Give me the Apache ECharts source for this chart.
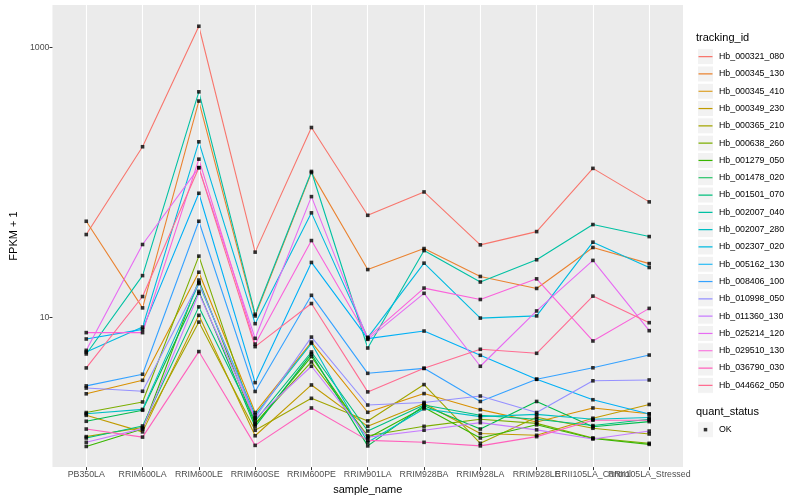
<!DOCTYPE html>
<html>
<head>
<meta charset="utf-8">
<script src="https://cdn.jsdelivr.net/npm/echarts@6/dist/echarts.min.js"></script>
<style>html,body{margin:0;padding:0;background:#fff}#c{width:800px;height:500px}</style>
</head>
<body>
<div id="c"></div>
<script>
const categories = ['PB350LA','RRIM600LA','RRIM600LE','RRIM600SE','RRIM600PE','RRIM901LA','RRIM928BA','RRIM928LA','RRIM928LE','RRII105LA_Control','RRII105LA_Stressed'];

const trackingIds = ['Hb_000321_080','Hb_000345_130','Hb_000345_410','Hb_000349_230','Hb_000365_210','Hb_000638_260','Hb_001279_050','Hb_001478_020','Hb_001501_070','Hb_002007_040','Hb_002007_280','Hb_002307_020','Hb_005162_130','Hb_008406_100','Hb_010998_050','Hb_011360_130','Hb_025214_120','Hb_029510_130','Hb_036790_030','Hb_044662_050'];

const colors = ['#F8766D','#EA8331','#D89000','#C09B00','#A3A500','#7CAE00','#39B600','#00BB4E','#00BF7D','#00C1A3','#00BFC4','#00BAE0','#00B0F6','#35A2FF','#9590FF','#C77CFF','#E76BF3','#FA62DB','#FF62BC','#FF6C91'];

// FPKM + 1 values, one array per tracking_id, in category order
const hb_000321_080 = [40.9, 183, 1430, 30.3, 254, 56.8, 84.6, 34.3, 43.0, 126.5, 71.4];
const hb_000345_130 = [51.3, 11.7, 399, 10.2, 117.6, 22.5, 32.2, 20.0, 16.3, 32.8, 24.9];
const hb_000345_410 = [2.70, 3.40, 21.5, 1.96, 6.53, 1.97, 2.71, 2.06, 1.67, 2.12, 1.92];
const hb_000349_230 = [1.87, 1.41, 10.3, 1.32, 3.14, 1.55, 2.29, 1.37, 1.33, 1.78, 2.25];
const hb_000365_210 = [1.30, 1.52, 9.18, 1.45, 2.50, 1.70, 3.16, 1.16, 1.81, 1.50, 1.36];
const hb_000638_260 = [1.96, 2.35, 28.3, 1.63, 4.65, 1.32, 1.55, 1.75, 1.63, 1.27, 1.16];
const hb_001279_050 = [1.10, 1.48, 18.8, 1.60, 5.10, 1.27, 2.14, 1.27, 1.59, 1.26, 1.14];
const hb_001478_020 = [1.69, 2.04, 15.5, 1.54, 5.33, 1.11, 2.20, 1.48, 2.37, 1.54, 1.68];
const hb_001501_070 = [1.27, 1.56, 11.9, 1.70, 5.51, 1.43, 2.23, 1.87, 1.75, 1.57, 1.75];
const hb_002007_040 = [5.33, 20.3, 467, 10.5, 120, 5.90, 31.1, 18.2, 26.6, 48.5, 39.5];
const hb_002007_280 = [1.92, 2.07, 17.7, 1.88, 6.39, 1.18, 2.09, 1.83, 1.90, 1.75, 1.80];
const hb_002307_020 = [5.51, 8.43, 199, 8.94, 59.2, 7.04, 25.1, 9.83, 10.2, 35.9, 23.3];
const hb_005162_130 = [6.88, 8.11, 82.7, 3.27, 25.4, 6.92, 7.88, 5.21, 3.46, 2.44, 1.91];
const hb_008406_100 = [3.09, 3.77, 51.3, 2.81, 14.5, 3.83, 4.17, 2.37, 3.46, 4.21, 5.23];
const hb_010998_050 = [2.98, 2.82, 18.0, 1.80, 7.11, 2.23, 2.33, 2.60, 1.96, 3.37, 3.42];
const hb_011360_130 = [1.18, 1.49, 15.0, 1.77, 4.32, 1.29, 1.45, 1.65, 1.46, 1.25, 1.43];
const hb_025214_120 = [5.67, 34.5, 128, 6.96, 78.1, 6.84, 15.0, 4.32, 11.1, 26.3, 7.93];
const hb_029510_130 = [7.67, 7.67, 148, 6.31, 36.9, 7.08, 16.4, 13.5, 19.2, 6.65, 11.6];
const hb_036790_030 = [1.48, 1.29, 5.55, 1.12, 2.12, 1.22, 1.18, 1.11, 1.30, 1.72, 1.72];
const hb_044662_050 = [4.20, 14.2, 128, 6.04, 12.6, 2.79, 4.17, 5.77, 5.39, 14.3, 9.09];

const seriesValues = [hb_000321_080, hb_000345_130, hb_000345_410, hb_000349_230, hb_000365_210, hb_000638_260, hb_001279_050, hb_001478_020, hb_001501_070, hb_002007_040, hb_002007_280, hb_002307_020, hb_005162_130, hb_008406_100, hb_010998_050, hb_011360_130, hb_025214_120, hb_029510_130, hb_036790_030, hb_044662_050];

const yTickLabels = [10, 1000];
const quantStatus = ['OK'];

const FONT = 'Liberation Sans, Arial, Helvetica, sans-serif';

const X_MIN = -0.6, X_MAX = categories.length - 1 + 0.6;
// category positions, plus a blank sentinel at the right edge so that
// ECharts' min/max overlap rule does not drop either of the last two labels
const xLabelValues = categories.map((c, i) => i).concat([X_MAX]);

function svgIcon(inner) {
  const svg = '<svg xmlns="http://www.w3.org/2000/svg" width="17" height="17">' +
    '<rect x="0.5" y="0.5" width="16" height="16" fill="#F2F2F2" stroke="#FFFFFF" stroke-width="1"/>' + inner + '</svg>';
  return 'image://data:image/svg+xml;charset=utf-8,' + encodeURIComponent(svg);
}
function lineIcon(color) {
  return svgIcon('<line x1="1.5" y1="8.5" x2="15.5" y2="8.5" stroke="' + color + '" stroke-width="1.2"/>');
}
const pointIcon = svgIcon('<rect x="6.75" y="6.75" width="3.5" height="3.5" fill="#000"/>');

const lineSeries = trackingIds.map((id, k) => ({
  name: id,
  type: 'line',
  data: seriesValues[k].map((v, i) => [i, v]),
  showSymbol: false,
  symbol: 'none',
  lineStyle: { color: colors[k], width: 1.1 },
  itemStyle: { color: colors[k] },
  z: 3,
  silent: true,
  emphasis: { disabled: true }
}));

const points = [];
seriesValues.forEach(arr => arr.forEach((v, i) => points.push([i, v])));

const gridSeries = {
  name: '_grid',
  type: 'line',
  data: [],
  z: 1,
  silent: true,
  markLine: {
    silent: true,
    symbol: ['none', 'none'],
    label: { show: false },
    lineStyle: { color: '#FFFFFF', width: 1.1, type: 'solid' },
    emphasis: { disabled: true },
    animation: false,
    data: categories.map((c, i) => ({ xAxis: i }))
  }
};

const pointSeries = {
  name: quantStatus[0],
  type: 'scatter',
  data: points,
  symbol: 'rect',
  symbolSize: 3.6,
  itemStyle: { color: '#000000' },
  z: 5,
  silent: true
};

const chart = echarts.init(document.getElementById('c'), null, { renderer: 'canvas' });
chart.setOption({
  animation: false,
  backgroundColor: '#FFFFFF',
  textStyle: { fontFamily: FONT },
  title: [
    { text: 'tracking_id', left: 696, top: 32, padding: 0,
      textStyle: { fontSize: 11, fontWeight: 'normal', color: '#000', fontFamily: FONT } },
    { text: 'quant_status', left: 696, top: 406, padding: 0,
      textStyle: { fontSize: 11, fontWeight: 'normal', color: '#000', fontFamily: FONT } }
  ],
  grid: { left: 45, right: 117, top: 5, bottom: 32, show: true, backgroundColor: '#EBEBEB', borderWidth: 0 },
  xAxis: {
    type: 'value',
    min: X_MIN,
    max: X_MAX,
    name: 'sample_name',
    nameLocation: 'middle',
    nameGap: 14,
    nameTextStyle: { fontSize: 11, color: '#000', fontFamily: FONT },
    axisLine: { show: false, onZero: false },
    axisTick: { show: true, length: 3, lineStyle: { color: '#333333', width: 1 },
      customValues: xLabelValues },
    axisLabel: { fontSize: 8.8, color: '#4D4D4D', margin: 3, fontFamily: FONT,
      hideOverlap: false,
      customValues: xLabelValues,
      formatter: v => (Math.abs(v - Math.round(v)) < 1e-6 && categories[Math.round(v)]) || ' ' },
    splitLine: { show: false }
  },
  yAxis: {
    type: 'log',
    logBase: 10,
    min: 0.773,
    max: 2055,
    name: 'FPKM + 1',
    nameLocation: 'middle',
    nameGap: 27,
    nameTextStyle: { fontSize: 11, color: '#000', fontFamily: FONT },
    axisLine: { show: false, onZero: false },
    axisTick: { show: true, length: 3, lineStyle: { color: '#333333', width: 1 }, customValues: yTickLabels },
    axisLabel: { fontSize: 8.8, color: '#4D4D4D', margin: 3, fontFamily: FONT, customValues: yTickLabels,
      hideOverlap: false, formatter: v => String(v) },
    splitLine: { show: true, showMinLine: false, showMaxLine: false, lineStyle: { color: '#FFFFFF', width: 1.1 } }
  },
  legend: [
    {
      orient: 'vertical', left: 697, top: 48, padding: 0,
      itemWidth: 17, itemHeight: 17.3, itemGap: 0, itemTextGap: 1.5,
      selectedMode: false,
      textStyle: { fontSize: 8.8, color: '#000', fontFamily: FONT },
      data: trackingIds.map((id, k) => ({ name: id, icon: lineIcon(colors[k]) }))
    },
    {
      orient: 'vertical', left: 697, top: 421, padding: 0,
      itemWidth: 17, itemHeight: 17.3, itemGap: 0, itemTextGap: 1.5,
      selectedMode: false,
      textStyle: { fontSize: 8.8, color: '#000', fontFamily: FONT },
      data: [{ name: quantStatus[0], icon: pointIcon }]
    }
  ],
  series: [gridSeries].concat(lineSeries, [pointSeries])
});
</script>
</body>
</html>
